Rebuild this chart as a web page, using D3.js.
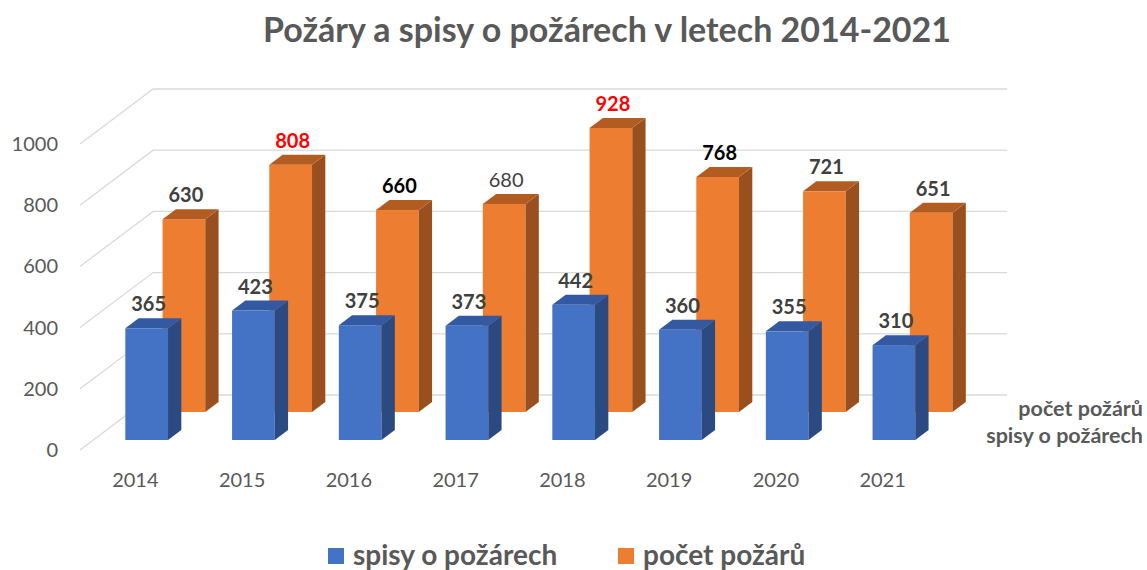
<!DOCTYPE html>
<html>
<head>
<meta charset="utf-8">
<script src="https://cdn.jsdelivr.net/npm/d3@7"></script>
<style>
  body { margin: 0; background: #fff; }
  text { font-family: Lato, "Open Sans", sans-serif; }
</style>
</head>
<body>
<div id="chart"></div>
<script>
// data
const years = ["2014", "2015", "2016", "2017", "2018", "2019", "2020", "2021"];
const spisy = [365, 423, 375, 373, 442, 360, 355, 310];
const pocet = [630, 808, 660, 680, 928, 768, 721, 651];
const pocetHighlight = ["", "max", "bold", "plain", "max", "bold", "", ""];
const seriesNames = ["spisy o požárech", "počet požárů"];
const yTicks = [0, 200, 400, 600, 800, 1000];

const width = 1147, height = 570;
const base = 450;       // floor front edge y
const slope = 1.33;     // dx per px of depth
const wallDepth = 55;
const barDepth = 10;
const rowDepth = [10, 38]; // front row (spisy), back row (pocet)

const svg = d3.select("#chart").append("svg")
  .attr("width", width).attr("height", height);
svg.append("rect").attr("width", width).attr("height", height).attr("fill", "#fff");

const x = d3.scaleBand(years, [80, 934]).paddingInner(0.6).paddingOuter(0.3);
const h = d3.scaleLinear([0, 1000], [0, 306]);

// gridlines: side wall + back wall
const grid = svg.append("g").attr("stroke", "#d9d9d9").attr("stroke-width", 1.3).attr("fill", "none");
yTicks.forEach(t => {
  const y0 = base - h(t);
  const bx = 80 + wallDepth * slope, by = y0 - wallDepth;
  grid.append("path").attr("d", `M80,${y0}L${bx},${by}L${934 + wallDepth * slope},${by}`);
});

// y tick labels
svg.append("g").selectAll("text").data(yTicks).join("text")
  .attr("x", 58).attr("y", d => base - h(d) + 7)
  .attr("text-anchor", "end").attr("font-size", 20).attr("fill", "#595959")
  .text(d => d);

// category labels
svg.append("g").selectAll("text").data(years).join("text")
  .attr("x", d => x(d) + x.bandwidth() / 2 + 2).attr("y", 487)
  .attr("text-anchor", "middle").attr("font-size", 20).attr("fill", "#595959")
  .text(d => d);

function drawRow(values, d0, cols) {
  const g = svg.append("g");
  const bw = x.bandwidth();
  const dx = barDepth * slope;
  values.forEach((v, i) => {
    const l = x(years[i]) + d0 * slope, r = l + bw;
    const bottom = base - d0, top = bottom - h(v);
    g.append("rect").attr("x", l).attr("y", top).attr("width", bw).attr("height", h(v)).attr("fill", cols[0]);
    g.append("path").attr("fill", cols[1])
      .attr("d", `M${r},${top}L${r + dx},${top - barDepth}L${r + dx},${bottom - barDepth}L${r},${bottom}Z`);
    g.append("path").attr("fill", cols[2])
      .attr("d", `M${l},${top}L${r},${top}L${r + dx},${top - barDepth}L${l + dx},${top - barDepth}Z`);
  });
}

function drawLabels(values, d0, styleFn) {
  const bw = x.bandwidth();
  svg.append("g").selectAll("text").data(values).join("text")
    .attr("x", (v, i) => x(years[i]) + d0 * slope + bw / 2 + 2)
    .attr("y", v => base - d0 - h(v) - barDepth - 7)
    .attr("text-anchor", "middle").attr("font-size", 20)
    .each(function (v, i) {
      const s = styleFn(i);
      d3.select(this).attr("fill", s.fill).attr("font-weight", s.weight);
    })
    .text(v => v);
}

// back row first, then front row
drawRow(pocet, rowDepth[1], ["#ED7D31", "#9A501E", "#B35C22"]);
drawLabels(pocet, rowDepth[1], i => {
  const k = pocetHighlight[i];
  if (k === "max") return { fill: "#FF0000", weight: "bold" };
  if (k === "bold") return { fill: "#000", weight: "bold" };
  if (k === "plain") return { fill: "#404040", weight: "normal" };
  return { fill: "#404040", weight: "bold" };
});
drawRow(spisy, rowDepth[0], ["#4472C4", "#2B4A82", "#3459A3"]);
drawLabels(spisy, rowDepth[0], () => ({ fill: "#404040", weight: "bold" }));

// depth axis labels
svg.append("g").selectAll("text").data([1, 0]).join("text")
  .attr("x", 1143).attr("y", d => d ? 416 : 443)
  .attr("text-anchor", "end").attr("font-size", 21.5).attr("font-weight", "bold").attr("fill", "#595959")
  .text(d => seriesNames[d]);

// title
svg.append("text").attr("x", 607).attr("y", 42).attr("text-anchor", "middle")
  .attr("font-size", 34).attr("font-weight", "bold").attr("fill", "#595959")
  .text("Požáry a spisy o požárech v letech 2014-2021");

// legend
const legend = svg.append("g");
[[328, "#4472C4", seriesNames[0]], [618, "#ED7D31", seriesNames[1]]].forEach(([lx, c, t]) => {
  legend.append("rect").attr("x", lx).attr("y", 548).attr("width", 16).attr("height", 16).attr("fill", c);
  legend.append("text").attr("x", lx + 25).attr("y", 565).attr("font-size", 28)
    .attr("font-weight", "bold").attr("fill", "#595959").text(t);
});
</script>
</body>
</html>
